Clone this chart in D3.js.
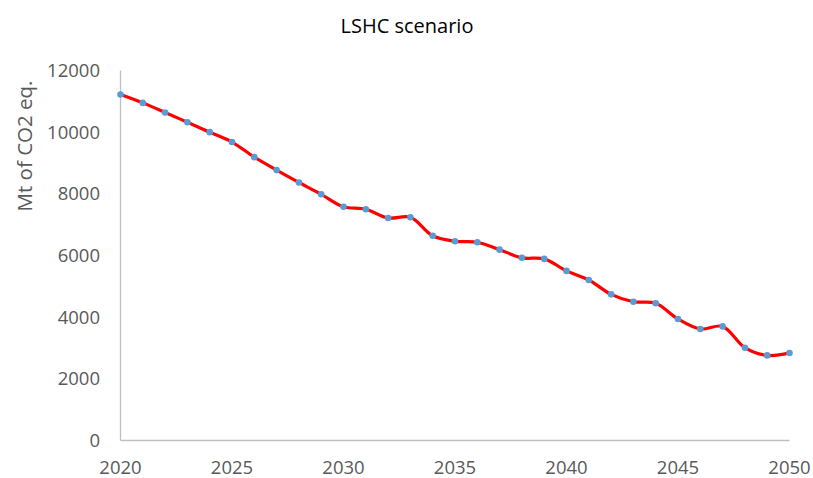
<!DOCTYPE html>
<html><head><meta charset="utf-8">
<script src="https://cdn.jsdelivr.net/npm/d3@7"></script>
<style>body{margin:0;background:#fff}svg{display:block}text{font-family:"Open Sans",Lato,sans-serif}</style>
</head><body><svg id="c" width="813" height="478"></svg>
<script>
const years = d3.range(2020, 2051);
const emissions = [11220,10950,10640,10320,10000,9680,9190,8770,8370,7985,
  7580,7500,7215,7240,6640,6460,6430,6190,5925,5890,
  5500,5205,4740,4500,4450,3940,3615,3700,3010,2760,2840];
const yTicks = [0,2000,4000,6000,8000,10000,12000];
const xTicks = [2020,2025,2030,2035,2040,2045,2050];
const title = "LSHC scenario";
const yTitle = "Mt of CO2 eq.";

const svg = d3.select("#c");
const x = d3.scaleLinear().domain([2020,2050]).range([120.5,789.5]);
const y = d3.scaleLinear().domain([0,12000]).range([440.5,70.5]);

svg.append("line").attr("x1",120.5).attr("x2",789.5).attr("y1",y(0)).attr("y2",y(0)).attr("stroke","#BFBFBF").attr("stroke-width",1.3);
svg.append("line").attr("x1",120.5).attr("x2",120.5).attr("y1",y(12000)).attr("y2",y(0)).attr("stroke","#BFBFBF").attr("stroke-width",1.3);

svg.selectAll(".yt").data(yTicks).enter().append("text")
  .attr("x",100).attr("y",d=>y(d)).attr("dy","0.35em").attr("text-anchor","end")
  .attr("font-size",18.5).attr("fill","#595959").text(d=>d);
svg.selectAll(".xt").data(xTicks).enter().append("text")
  .attr("x",d=>x(d)).attr("y",467.5).attr("dy","0.35em").attr("text-anchor","middle")
  .attr("font-size",18.5).attr("fill","#595959").text(d=>d);

svg.append("text").attr("x",407).attr("y",26).attr("dy","0.35em").attr("text-anchor","middle")
  .attr("font-size",20).attr("fill","#000").text(title);
svg.append("text").attr("transform","translate(25,146) rotate(-90)").attr("dy","0.35em")
  .attr("text-anchor","middle").attr("font-size",20.5).attr("fill","#595959").text(yTitle);

const line = d3.line().x((d,i)=>x(years[i])).y(d=>y(d)).curve(d3.curveCatmullRom.alpha(0.5));
svg.append("path").datum(emissions).attr("d",line).attr("fill","none")
  .attr("stroke","#FF0000").attr("stroke-width",3.2).attr("stroke-linejoin","round");
svg.selectAll(".pt").data(emissions).enter().append("circle")
  .attr("cx",(d,i)=>x(years[i])).attr("cy",d=>y(d)).attr("r",3.3).attr("fill","#5B9BD5");
</script></body></html>
